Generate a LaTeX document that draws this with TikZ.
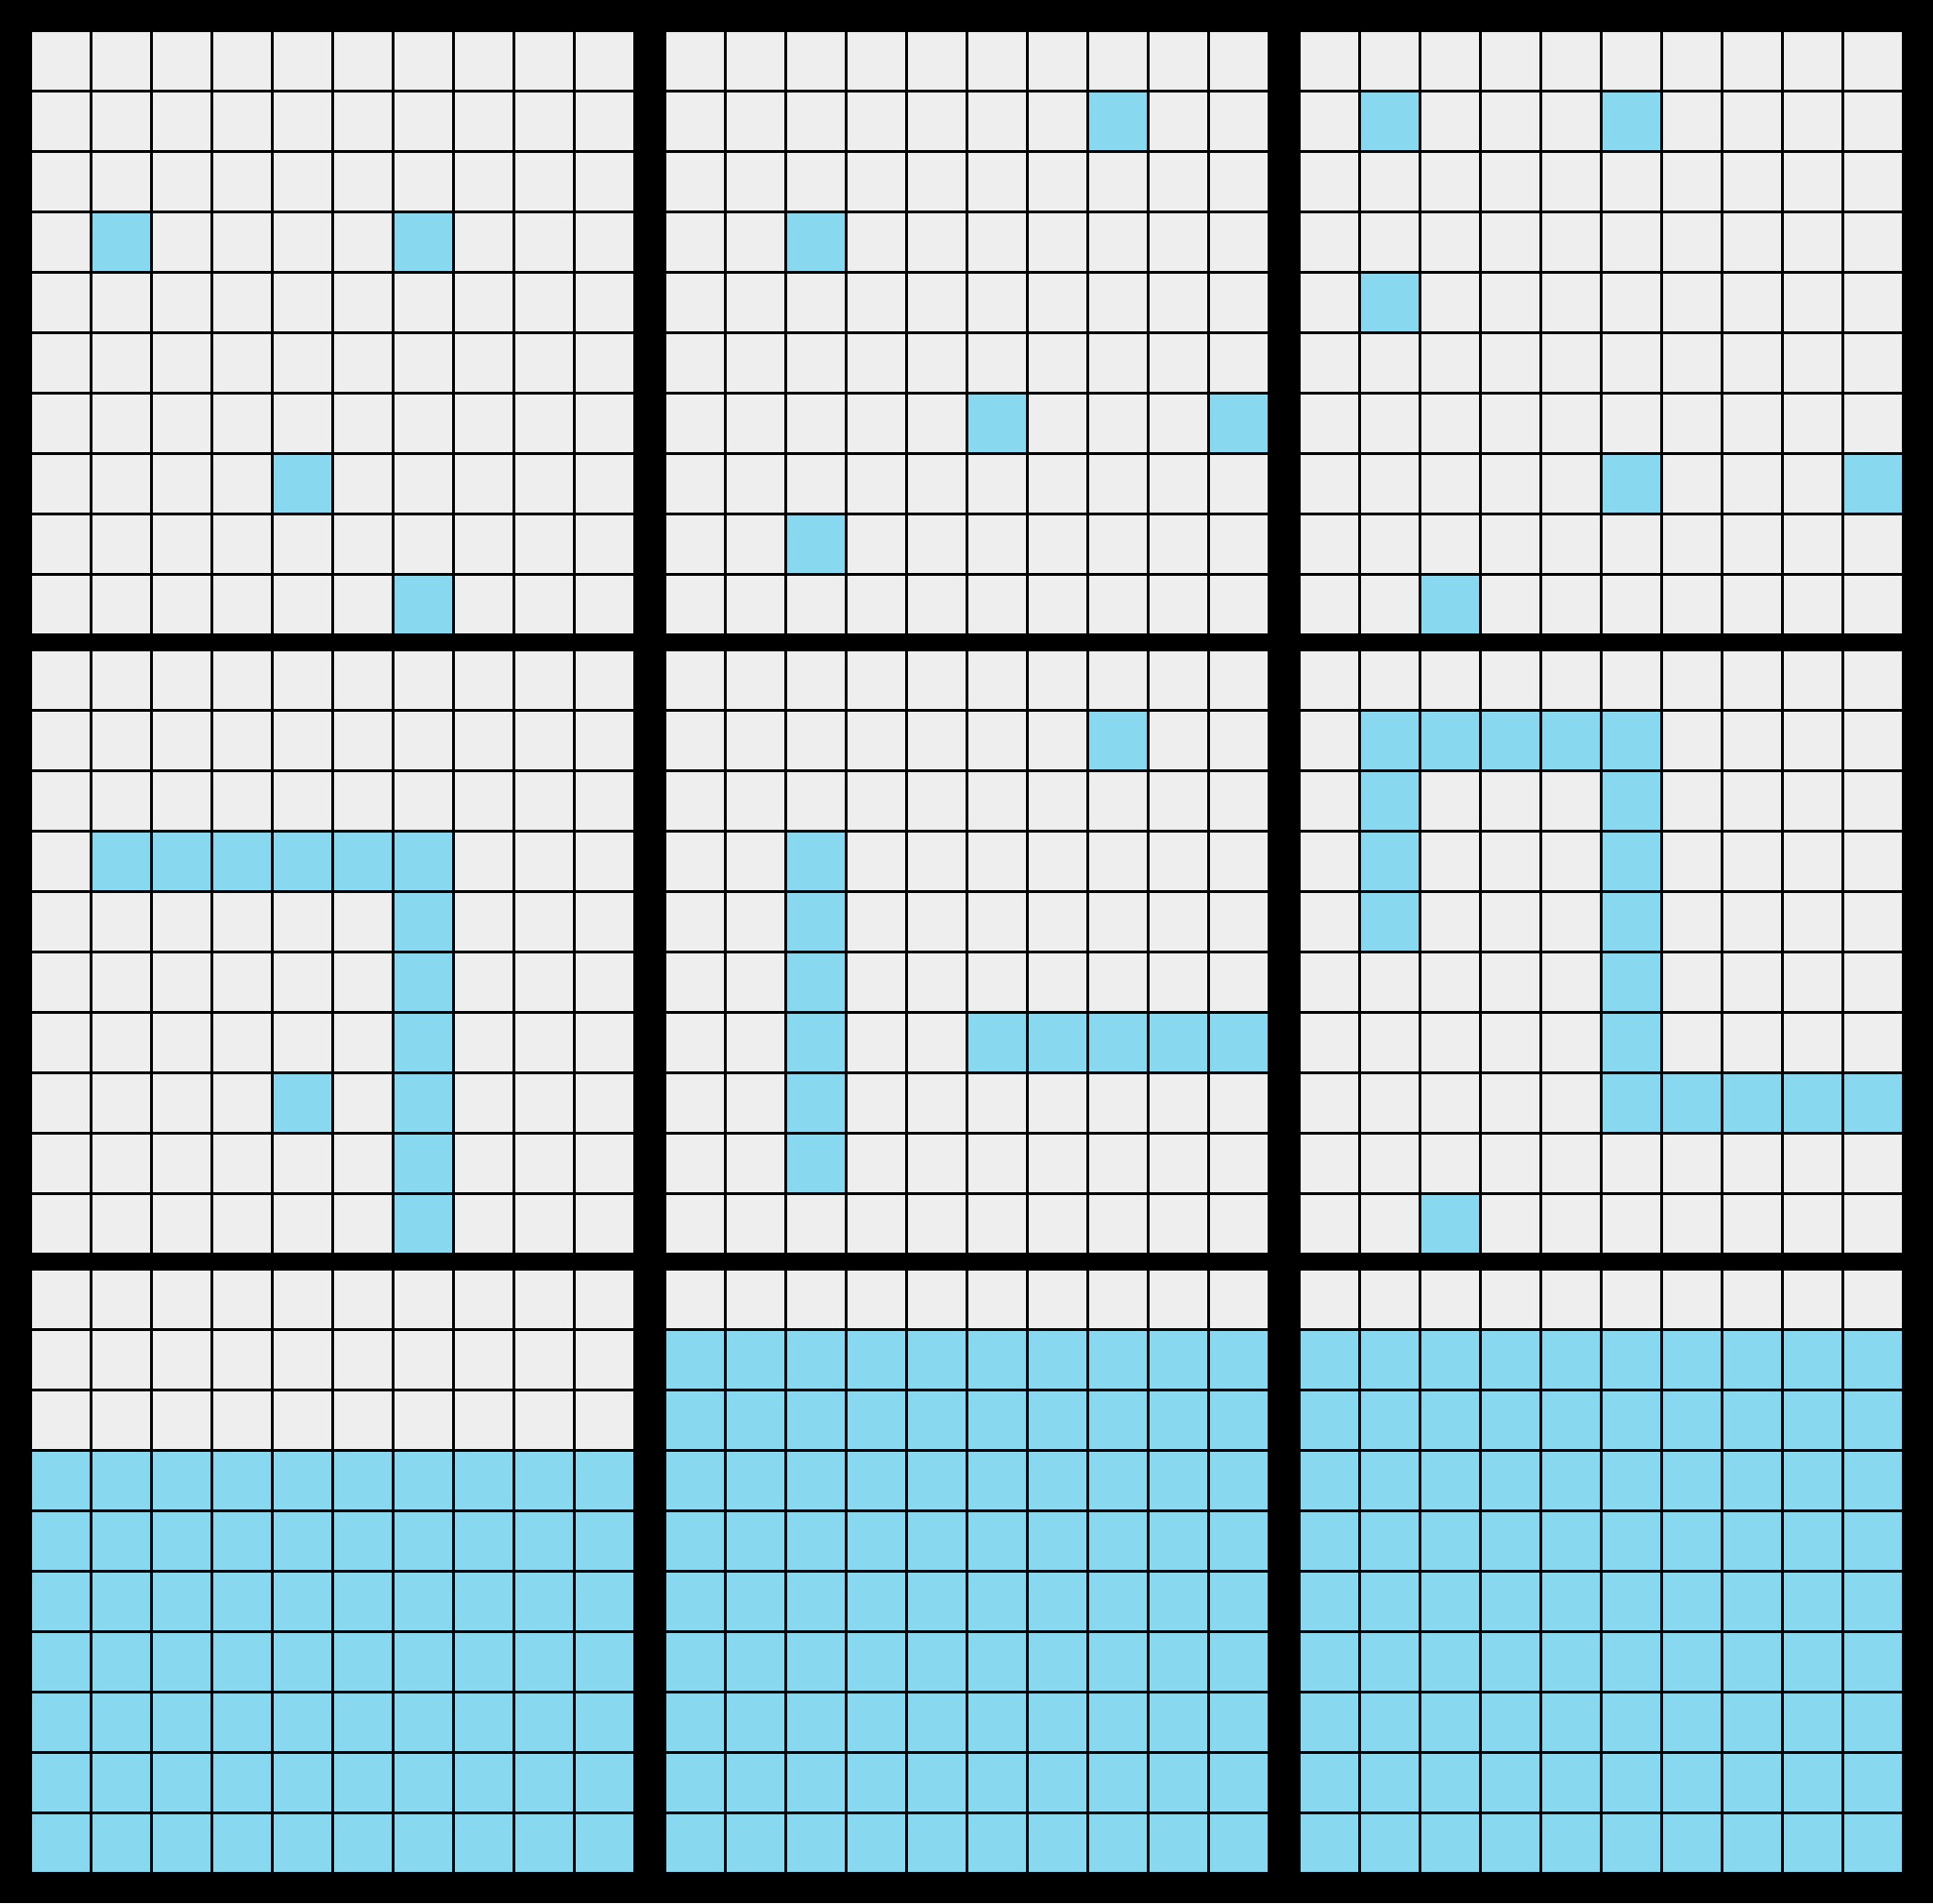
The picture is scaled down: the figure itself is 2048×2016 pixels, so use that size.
\documentclass[tikz,border=0pt]{standalone}
\usepackage{tikz}

\definecolor{boardgray}{HTML}{EEEEEE}
\definecolor{boardblue}{HTML}{88D8F0}

% one 10x10 board: #1,#2 top left corner, #3 first row that is all blue
\newcommand{\boardbase}[3]{%
  \foreach \r in {0,...,9} {
    \foreach \c in {0,...,9} {
      \ifnum\r<#3\relax\def\cellcol{boardgray}\else\def\cellcol{boardblue}\fi
      \fill[fill=\cellcol] ({#1+64*\c},{#2+64*\r}) rectangle ++(61,61);
    }
  }%
}
% blue cells given as row/col
\newcommand{\boardmarks}[3]{%
  \foreach \r/\c in {#3} {
    \fill[boardblue] ({#1+64*\c},{#2+64*\r}) rectangle ++(61,61);
  }%
}

\begin{document}
\begin{tikzpicture}[x=0.2mm, y=-0.2mm]
    % Background
    \fill[black] (0,0) rectangle (2048,2016);
    % Top row
    \boardbase{34}{34}{10}
    \boardmarks{34}{34}{3/1,3/6,7/4,9/6}
    \boardbase{706}{34}{10}
    \boardmarks{706}{34}{1/7,3/2,6/5,6/9,8/2}
    \boardbase{1378}{34}{10}
    \boardmarks{1378}{34}{1/1,1/5,4/1,7/5,7/9,9/2}
    % Middle row
    \boardbase{34}{690}{10}
    \boardmarks{34}{690}{3/1,3/2,3/3,3/4,3/5,3/6,4/6,5/6,6/6,7/6,8/6,9/6,7/4}
    \boardbase{706}{690}{10}
    \boardmarks{706}{690}{1/7,3/2,4/2,5/2,6/2,7/2,8/2,6/5,6/6,6/7,6/8,6/9}
    \boardbase{1378}{690}{10}
    \boardmarks{1378}{690}{1/1,1/2,1/3,1/4,1/5,2/1,3/1,4/1,2/5,3/5,4/5,5/5,6/5,7/5,7/6,7/7,7/8,7/9,9/2}
    % Bottom row
    \boardbase{34}{1346}{3}
    \boardbase{706}{1346}{1}
    \boardbase{1378}{1346}{1}
\end{tikzpicture}
\end{document}
